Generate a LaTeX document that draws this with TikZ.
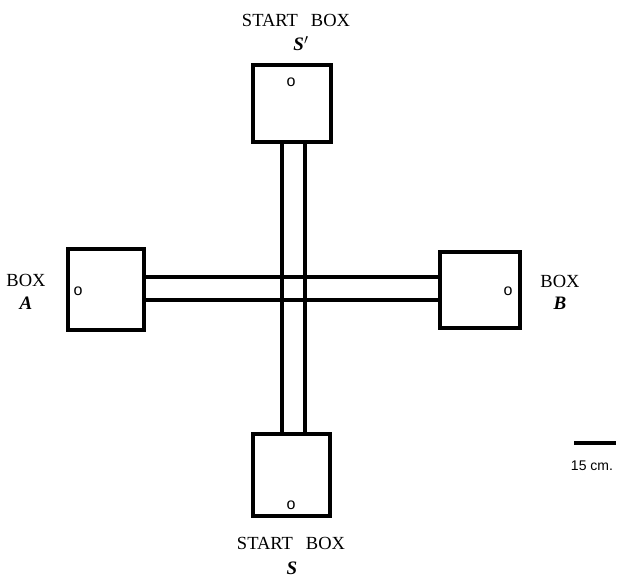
\documentclass[tikz,border=0pt]{standalone}
\usepackage{fontspec}
\setmainfont{Liberation Serif}
\newfontfamily\labelsans{Liberation Sans}
\usetikzlibrary{calc}
\tikzset{
  box/.style={draw, line width=4pt, rectangle, inner sep=0pt, fill=white},
  wall/.style={line width=4pt},
  caption text/.style={anchor=base, font=\fontsize{18.5}{20}\selectfont, inner sep=0pt},
  letter/.style={anchor=base, font=\fontsize{19}{20}\selectfont\bfseries\itshape, inner sep=0pt},
  mark o/.style={font=\labelsans\fontsize{16}{18}\selectfont, inner sep=0pt},
}
\begin{document}
\begin{tikzpicture}[x=1pt, y=-1pt]
\useasboundingbox (0,0) rectangle (619,578);
% centre of the cross-shaped corridor
\coordinate (cv) at (293,288.5);

% the four boxes
\node[box, minimum width=78pt, minimum height=77pt] (top) at (292,103.5) {};
\node[box, minimum width=77pt, minimum height=82pt] (bot) at (291.5,475) {};
\node[box, minimum width=76pt, minimum height=81pt] (left) at (106,289.5) {};
\node[box, minimum width=80pt, minimum height=76pt] (right) at (480,290) {};

% corridor walls between the boxes
\draw[wall] ($(top.south -| cv)+(-11.5,0)$) -- ($(bot.north -| cv)+(-11.5,0)$);
\draw[wall] ($(top.south -| cv)+(11.5,0)$) -- ($(bot.north -| cv)+(11.5,0)$);
\draw[wall] ($(left.east |- cv)+(0,-11.5)$) -- ($(right.west |- cv)+(0,-11.5)$);
\draw[wall] ($(left.east |- cv)+(0,11.5)$) -- ($(right.west |- cv)+(0,11.5)$);

% small start markers
\node[mark o] (otop) at (291,82) {o};
\node[mark o] (obot) at (291,505) {o};
\node[mark o] (oleft) at (78,291) {o};
\node[mark o] (oright) at (508,291) {o};

% labels
\node[caption text] (ttop) at (296,27) {START\hspace{13pt}BOX};
\node[letter] (stop) at (301,51) {S$'$};
\node[caption text] (tbot) at (291,549) {START\hspace{13pt}BOX};
\node[letter] (sbot) at (292,574) {S};
\node[caption text] (tleft) at (26,286) {BOX};
\node[letter] (aleft) at (26,309) {A};
\node[caption text] (tright) at (560,287) {BOX};
\node[letter] (bright) at (560,309) {B};

% scale bar
\coordinate (sb1) at (574,443);
\coordinate (sb2) at (616,443);
\draw[line width=3.5pt] (sb1) -- (sb2);
\node[anchor=base, font=\labelsans\fontsize{14}{16}\selectfont, inner sep=0pt] (sbl) at (592,470) {15 cm.};
\end{tikzpicture}
\end{document}
